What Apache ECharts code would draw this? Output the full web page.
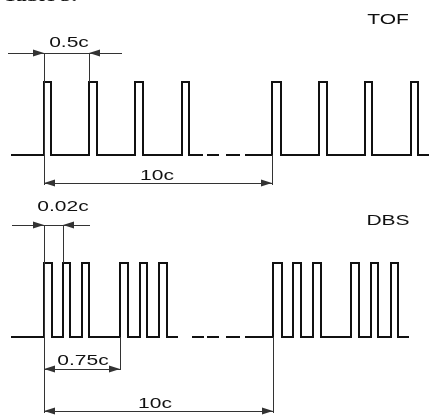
<!DOCTYPE html>
<html>
<head>
<meta charset="utf-8">
<script src="https://cdn.jsdelivr.net/npm/echarts@6/dist/echarts.min.js"></script>
<style>
html, body { margin: 0; padding: 0; background: #fff; }
#chart { width: 429px; height: 416px; }
</style>
</head>
<body>
<div id="chart"></div>
<script>
// 脉冲时序示意图：TOF / DBS

// TOF 波形
var tofBase = 155, tofHigh = 82;
var tofPulses = [[44, 51], [89, 97], [135, 143], [182, 189], [272, 281], [319, 327], [365, 372], [411, 418]];
var tofSolid = [[12, 202], [246, 429]];
var tofDashes = [[208, 218], [227, 239]];

// DBS 波形
var dbsBase = 337, dbsHigh = 263;
var dbsPulses = [[44, 52], [63, 70], [82, 89], [120, 128], [140, 147], [159, 167],
                 [273, 282], [293, 301], [313, 321], [351, 359], [371, 378], [391, 398]];
var dbsSolid = [[12, 177], [246, 408]];
var dbsDashes = [[193, 203], [208, 218], [227, 239]];

// 尺寸线 [x1, y1, x2, y2, 起点箭头, 终点箭头]
var dimLines = [
    [8, 53, 44, 53, 0, 1], [44, 53, 89, 53, 0, 0], [122, 53, 89, 53, 0, 1],
    [44, 53, 44, 185, 0, 0], [89, 53, 89, 82, 0, 0],
    [44, 183, 272, 183, 1, 1], [272, 155, 272, 185, 0, 0],
    [12, 225, 44, 225, 0, 1], [44, 225, 63, 225, 0, 0], [90, 225, 63, 225, 0, 1],
    [44, 225, 44, 413, 0, 0], [63, 225, 63, 263, 0, 0],
    [44, 369, 120, 369, 1, 1], [120, 337, 120, 370, 0, 0],
    [44, 411, 273, 411, 1, 1], [273, 337, 273, 413, 0, 0]
];

// 文字标注 [文字, x, y]
var labels = [
    ['0.5c', 69, 43], ['10c', 157, 176], ['TOF', 388, 20],
    ['0.02c', 63, 207], ['0.75c', 83, 361], ['10c', 155, 404], ['DBS', 388, 221]
];
var caption = ['Table 3.', 40, 5.5];

function wave(base, high, pulses, seg) {
    var pts = [[seg[0], base]];
    for (var i = 0; i < pulses.length; i++) {
        var p = pulses[i];
        if (p[0] >= seg[0] && p[1] <= seg[1]) {
            pts.push([p[0], base], [p[0], high], [p[1], high], [p[1], base]);
        }
    }
    pts.push([seg[1], base]);
    return pts;
}

var series = [];
function addWave(base, high, pulses, solid, dashes) {
    solid.forEach(function (s) {
        series.push({ type: 'line', data: wave(base, high, pulses, s) });
    });
    dashes.forEach(function (d) {
        series.push({ type: 'line', data: [[d[0], base], [d[1], base]] });
    });
}
addWave(tofBase, tofHigh, tofPulses, tofSolid, tofDashes);
addWave(dbsBase, dbsHigh, dbsPulses, dbsSolid, dbsDashes);

series.forEach(function (s) {
    s.symbol = 'none';
    s.silent = true;
    s.lineStyle = { color: '#111', width: 2, join: 'miter', cap: 'square' };
});

function end(x, y, arrow) {
    return {
        coord: [x, y],
        symbol: arrow ? 'triangle' : 'none',
        symbolSize: [7, 11],
        symbolOffset: [0, '50%']
    };
}
var mlData = dimLines.map(function (d) {
    return [end(d[0], d[1], d[4]), end(d[2], d[3], d[5])];
});

series.push({
    type: 'line',
    data: [],
    color: '#111',
    markLine: {
        silent: true,
        animation: false,
        label: { show: false },
        itemStyle: { color: '#111' },
        lineStyle: { color: '#333', width: 1, type: 'solid' },
        emphasis: { disabled: true },
        data: mlData
    }
});

var mychart = echarts.init(document.getElementById('chart'));

var option = {
    animation: false,
    backgroundColor: '#fff',
    grid: { left: 0, right: 0, top: 0, bottom: 0 },
    xAxis: { type: 'value', min: 0, max: 429, show: false },
    yAxis: { type: 'value', min: 0, max: 416, inverse: true, show: false },
    series: series
};
mychart.setOption(option);

var graphics = labels.map(function (l) {
    var p = mychart.convertToPixel({ gridIndex: 0 }, [l[1], l[2]]);
    return {
        type: 'text', x: p[0], y: p[1], scaleX: 1.4, silent: true,
        style: {
            text: l[0], fill: '#111', align: 'center', verticalAlign: 'middle',
            font: '15px "Liberation Sans", Arial, sans-serif'
        }
    };
});
var cp = mychart.convertToPixel({ gridIndex: 0 }, [caption[1], caption[2]]);
graphics.push({
    type: 'text', x: cp[0], y: cp[1], scaleX: 1.3, silent: true,
    style: {
        text: caption[0], fill: '#111', align: 'center', verticalAlign: 'bottom',
        font: 'bold 17px "Liberation Serif", serif'
    }
});
mychart.setOption({ graphic: graphics });
</script>
</body>
</html>
